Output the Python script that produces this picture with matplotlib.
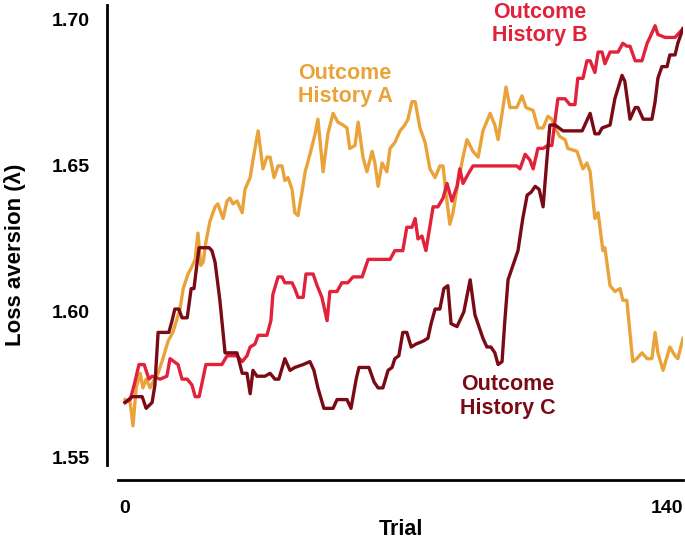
import matplotlib
matplotlib.use("Agg")
import matplotlib.pyplot as plt

plt.rcParams['font.family'] = ['Liberation Sans', 'DejaVu Sans']
plt.rcParams['font.weight'] = 'bold'

# ---- data ----
trial_a = [0, 1.3, 2, 2.8, 3.8, 4.5, 5.3, 6.3, 7, 8.3, 9.5, 10.8, 12, 13.8, 14.6, 15.8, 16.6, 17.6,
           18.3, 19, 19.6, 20.3, 21.3, 22.6, 23.3, 24.6, 25.6, 26.3, 27.1, 28.1, 29.4, 30.1, 31.4,
           32.1, 33.4, 34.6, 35.6, 36.4, 37.4, 38.4, 39.4, 40.1, 40.9, 41.9, 42.6, 43.4, 44.4, 45.2,
           46.4, 47.7, 48.4, 49.7, 50.9, 52.2, 53.4, 54.7, 55.7, 56.4, 57.7, 58.5, 59.7, 60.7, 62,
           62.7, 63.5, 64.5, 65.7, 66.5, 67.7, 69, 70.2, 71, 72, 72.8, 74, 75.3, 76.5, 77.8, 79,
           79.8, 80.5, 81.5, 82.3, 83.5, 84.8, 85.8, 87.3, 88.6, 89.8, 91.6, 92.8, 93.6, 94.6, 95.6,
           96.6, 98.3, 99.6, 100.6, 102.4, 103.6, 104.9, 106.1, 107.1, 107.9, 109.1, 110.4, 111.1,
           113.4, 114.9, 115.9, 116.7, 117.9, 118.7, 119.9, 120.4, 121.7, 122.9, 124.2, 124.9,
           125.9, 127.4, 128.4, 129.7, 131, 132.2, 133, 133.7, 135, 136.7, 138, 138.7, 140]
loss_a = [1.570, 1.569, 1.561, 1.574, 1.579, 1.574, 1.577, 1.574, 1.576, 1.579, 1.584, 1.590,
          1.593, 1.601, 1.608, 1.613, 1.615, 1.618, 1.627, 1.616, 1.617, 1.624, 1.631, 1.636,
          1.637, 1.632, 1.638, 1.639, 1.637, 1.638, 1.634, 1.642, 1.646, 1.652, 1.662, 1.649,
          1.653, 1.653, 1.646, 1.650, 1.650, 1.645, 1.646, 1.642, 1.634, 1.633, 1.641, 1.648,
          1.654, 1.661, 1.666, 1.648, 1.661, 1.668, 1.665, 1.664, 1.663, 1.656, 1.657, 1.665,
          1.653, 1.648, 1.655, 1.651, 1.643, 1.651, 1.648, 1.656, 1.658, 1.662, 1.664, 1.666,
          1.672, 1.672, 1.663, 1.658, 1.649, 1.646, 1.650, 1.650, 1.641, 1.630, 1.634, 1.644,
          1.653, 1.659, 1.655, 1.653, 1.662, 1.668, 1.664, 1.659, 1.668, 1.677, 1.670, 1.670,
          1.674, 1.670, 1.669, 1.663, 1.663, 1.667, 1.666, 1.663, 1.660, 1.659, 1.656, 1.655,
          1.649, 1.651, 1.648, 1.632, 1.634, 1.621, 1.622, 1.609, 1.607, 1.608, 1.604, 1.604,
          1.583, 1.584, 1.586, 1.584, 1.584, 1.593, 1.586, 1.580, 1.588, 1.585, 1.584, 1.591]

trial_b = [0, 1.3, 2.3, 3.5, 4.8, 6, 6.8, 8.8, 10.5, 11.3, 12.3, 13.3, 14.3, 15.6, 16.8, 17.6,
           18.6, 20.3, 24.3, 25.6, 28.1, 29.4, 30.6, 31.4, 32.6, 33.4, 35.6, 36.6, 37.1, 38.4,
           39.4, 40.1, 41.9, 42.6, 43.4, 44.7, 45.4, 47.2, 48.2, 49.4, 50.7, 51.4, 53.2, 54.4,
           55.9, 57.2, 59.5, 61, 62, 66.5, 67.7, 69.7, 70.7, 72, 72.8, 73.5, 74.5, 75.5, 77.3,
           78.5, 79.8, 80.8, 82, 83.3, 84, 84.8, 86, 87.3, 98.3, 99.1, 100.4, 101.6, 102.4, 103.6,
           104.9, 106.1, 107.1, 108.6, 110.4, 111.6, 112.9, 113.6, 114.9, 115.9, 116.7, 117.9,
           118.7, 119.7, 120.4, 121.7, 123.7, 124.9, 125.9, 126.7, 128, 129.7, 131, 131.7, 133,
           133.7, 135.5, 138, 140]
loss_b = [1.569, 1.570, 1.575, 1.582, 1.582, 1.577, 1.578, 1.577, 1.578, 1.584, 1.583, 1.582,
          1.577, 1.577, 1.575, 1.571, 1.571, 1.582, 1.582, 1.585, 1.585, 1.583, 1.585, 1.588,
          1.589, 1.592, 1.592, 1.597, 1.606, 1.612, 1.612, 1.610, 1.610, 1.608, 1.605, 1.605,
          1.613, 1.613, 1.609, 1.605, 1.597, 1.607, 1.607, 1.610, 1.610, 1.612, 1.612, 1.618,
          1.618, 1.618, 1.621, 1.621, 1.629, 1.629, 1.632, 1.625, 1.626, 1.621, 1.636, 1.636,
          1.639, 1.644, 1.638, 1.643, 1.649, 1.644, 1.647, 1.650, 1.650, 1.649, 1.654, 1.652,
          1.649, 1.656, 1.656, 1.657, 1.657, 1.673, 1.673, 1.671, 1.671, 1.680, 1.680, 1.686,
          1.686, 1.682, 1.689, 1.689, 1.685, 1.689, 1.689, 1.692, 1.691, 1.691, 1.686, 1.686,
          1.692, 1.694, 1.698, 1.695, 1.694, 1.694, 1.697]

trial_c = [0, 1.8, 4.3, 5.3, 6.8, 7.5, 8.3, 11, 11.8, 12.5, 13.5, 14.3, 15.6, 16.6, 17.3, 18.1,
           18.6, 21.1, 21.8, 22.6, 23.8, 25.1, 28.1, 29.4, 30.6, 31.4, 32.1, 33.1, 35.1, 36.4,
           37.6, 38.6, 40.1, 41.4, 42.6, 44.7, 46.4, 47.4, 48.4, 49.9, 52.2, 53.2, 55.7, 56.7,
           58, 58.7, 61.2, 62.5, 63.5, 64.7, 66, 67, 67.7, 68.7, 69.7, 70.7, 71.8, 73, 74.8, 76,
           76.8, 77.8, 79, 80, 81, 81.8, 83.3, 85, 86.6, 87.8, 88.8, 89.8, 90.8, 91.8, 92.8, 93.6,
           94.6, 95.3, 96.1, 97.6, 98.6, 99.8, 100.9, 101.9, 102.9, 103.9, 104.9, 105.9, 106.6,
           107.9, 109.9, 114.7, 116.7, 117.9, 118.9, 119.7, 121.7, 122.9, 124.7, 125.4, 126.7,
           128, 128.7, 130, 132.2, 133, 133.7, 134.7, 136, 136.7, 138, 138.7, 140]
loss_c = [1.569, 1.571, 1.571, 1.567, 1.569, 1.575, 1.593, 1.593, 1.597, 1.601, 1.601, 1.598,
          1.598, 1.608, 1.608, 1.617, 1.622, 1.622, 1.621, 1.617, 1.604, 1.586, 1.586, 1.579,
          1.579, 1.572, 1.580, 1.578, 1.578, 1.579, 1.577, 1.577, 1.584, 1.580, 1.581, 1.582,
          1.583, 1.580, 1.574, 1.567, 1.567, 1.570, 1.570, 1.567, 1.577, 1.581, 1.581, 1.576,
          1.574, 1.574, 1.580, 1.581, 1.584, 1.585, 1.593, 1.593, 1.588, 1.589, 1.590, 1.591,
          1.596, 1.601, 1.601, 1.608, 1.609, 1.596, 1.595, 1.600, 1.611, 1.599, 1.595, 1.591,
          1.588, 1.588, 1.586, 1.582, 1.583, 1.597, 1.611, 1.617, 1.621, 1.632, 1.640, 1.641,
          1.643, 1.642, 1.636, 1.653, 1.664, 1.664, 1.662, 1.662, 1.668, 1.661, 1.661, 1.663,
          1.664, 1.673, 1.681, 1.679, 1.666, 1.670, 1.670, 1.666, 1.666, 1.672, 1.680, 1.684,
          1.684, 1.688, 1.688, 1.692, 1.697]

x_ticks = [0, 140]
y_ticks = [1.55, 1.60, 1.65, 1.70]
y_tick_labels = ["1.55", "1.60", "1.65", "1.70"]
labels = ["Outcome\nHistory A", "Outcome\nHistory B", "Outcome\nHistory C"]

# ---- styles ----
col_a = "#E9A33A"
col_b = "#E2213B"
col_c = "#7A0B16"

W, H = 685, 543
fig = plt.figure(figsize=(W / 100, H / 100), dpi=100)
ax = fig.add_axes([118 / W, (H - 465) / H, 565 / W, 460 / H])

ax.plot(trial_a, loss_a, color=col_a, lw=2.4, solid_joinstyle='round', zorder=3)
ax.plot(trial_b, loss_b, color=col_b, lw=2.4, solid_joinstyle='round', zorder=3)
ax.plot(trial_c, loss_c, color=col_c, lw=2.4, solid_joinstyle='round', zorder=4)

ax.set_xlim(-1.76, 140)
ax.set_ylim(1.5476, 1.7051)

for s in ['top', 'right']:
    ax.spines[s].set_visible(False)
ax.spines['left'].set_position(('outward', 8))
ax.spines['bottom'].set_position(('outward', 11))
ax.spines['left'].set_linewidth(2)
ax.spines['bottom'].set_linewidth(2)

ax.set_yticks(y_ticks)
ax.set_yticklabels(y_tick_labels, fontsize=14, fontweight='bold')
ax.set_xticks(x_ticks)
ax.set_xticklabels([str(v) for v in x_ticks], fontsize=14, fontweight='bold')
ax.tick_params(axis='y', length=0, pad=12)
ax.tick_params(axis='x', length=0, pad=14)
ax.get_xticklabels()[1].set_horizontalalignment('right')

ax.set_ylabel("Loss aversion (λ)", fontsize=16, fontweight='bold')
ax.yaxis.set_label_coords(-0.163, 0.4565)
ax.set_xlabel("Trial", fontsize=15.5, fontweight='bold', labelpad=1.5)

ax.text(55.2, 1.6777, labels[0], color=col_a, fontsize=15.5, fontweight='bold',
        ha='center', va='center', linespacing=1.15)
ax.text(104, 1.6985, labels[1], color=col_b, fontsize=15.5, fontweight='bold',
        ha='center', va='center', linespacing=1.15, clip_on=False)
ax.text(96, 1.571, labels[2], color=col_c, fontsize=15.5, fontweight='bold',
        ha='center', va='center', linespacing=1.15)

fig.savefig("out.png", dpi=100)
